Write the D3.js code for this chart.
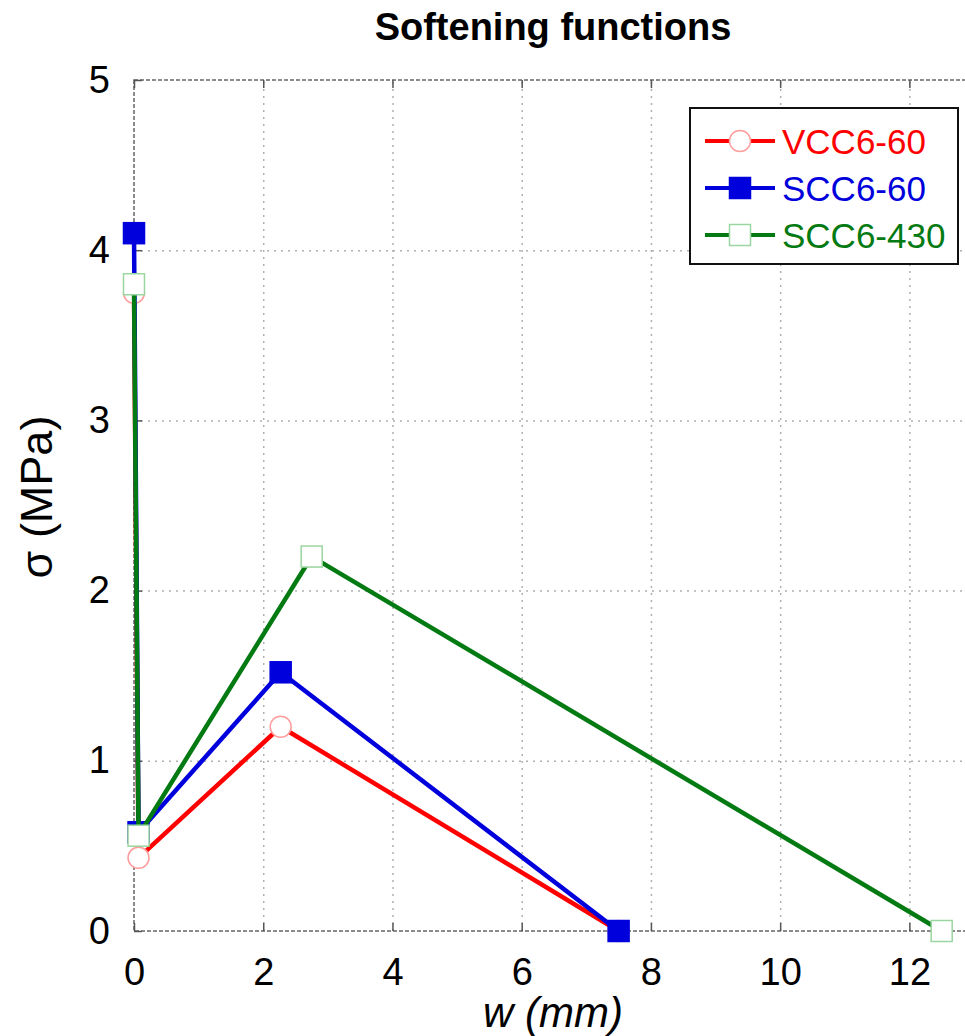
<!DOCTYPE html>
<html>
<head>
<meta charset="utf-8">
<script src="https://cdn.jsdelivr.net/npm/d3@7"></script>
<style>
  body { margin: 0; background: #fff; }
  svg { display: block; font-family: "Liberation Sans", Arial, sans-serif; }
</style>
</head>
<body>
<svg width="965" height="1036"></svg>
<script>
// data
var seriesNames = ["VCC6-60", "SCC6-60", "SCC6-430"];
var vccW = [0, 0.07, 2.27, 7.5];
var vccS = [3.75, 0.43, 1.2, 0];
var scc60W = [0, 0.07, 2.27, 7.5];
var scc60S = [4.1, 0.58, 1.52, 0];
var scc430W = [0, 0.07, 2.75, 12.5];
var scc430S = [3.8, 0.56, 2.2, 0];
var xTicks = [0, 2, 4, 6, 8, 10, 12];
var yTicks = [0, 1, 2, 3, 4, 5];

var svg = d3.select("svg"),
    margin = {left: 134, top: 80},
    width = 840,
    height = 851;

var x = d3.scaleLinear().domain([0, 13]).range([0, width]);
var y = d3.scaleLinear().domain([0, 5]).range([height, 0]);

var series = [
  {name: seriesNames[0], w: vccW, s: vccS, color: "#ff0000", marker: "circle", fill: "#fff", mstroke: "#ff9c9c"},
  {name: seriesNames[1], w: scc60W, s: scc60S, color: "#0000dd", marker: "square", fill: "#0000dd", mstroke: "#0000dd"},
  {name: seriesNames[2], w: scc430W, s: scc430S, color: "#047a12", marker: "square", fill: "#fff", mstroke: "#9ad69f"}
];

svg.append("text")
    .attr("x", 553).attr("y", 40)
    .attr("text-anchor", "middle")
    .attr("font-size", "38px").attr("font-weight", "bold")
    .text("Softening functions");

var g = svg.append("g").attr("transform", "translate(" + margin.left + "," + margin.top + ")");

// grid
g.append("g")
    .attr("class", "grid")
    .attr("transform", "translate(0," + height + ")")
    .call(d3.axisBottom(x).tickValues(xTicks.slice(1)).tickSize(-height).tickFormat(""))
    .call(function(s) { s.select(".domain").remove(); });
g.append("g")
    .attr("class", "grid")
    .call(d3.axisLeft(y).tickValues(yTicks.slice(1, -1)).tickSize(-width).tickFormat(""))
    .call(function(s) { s.select(".domain").remove(); });
g.selectAll(".grid line")
    .attr("stroke", "#b0b0b0")
    .attr("stroke-width", 1.5)
    .attr("stroke-dasharray", "2,5");

// frame
g.append("rect")
    .attr("width", width).attr("height", height)
    .attr("fill", "none")
    .attr("stroke", "#666")
    .attr("stroke-width", 1.5)
    .attr("stroke-dasharray", "4,2");

// axes with inward ticks
var xAxis = g.append("g")
    .attr("transform", "translate(0," + height + ")")
    .call(d3.axisBottom(x).tickValues(xTicks).tickSize(-8).tickPadding(27).tickFormat(d3.format("d")));
var xTop = g.append("g")
    .call(d3.axisTop(x).tickValues(xTicks).tickSize(-8).tickFormat(""));
var yAxis = g.append("g")
    .call(d3.axisLeft(y).tickValues(yTicks).tickSize(-8).tickPadding(24).tickFormat(d3.format("d")));
[xAxis, xTop, yAxis].forEach(function(a) {
  a.select(".domain").remove();
  a.selectAll("line").attr("stroke", "#555").attr("stroke-width", 1.5);
  a.selectAll("text").attr("font-size", "38px").attr("fill", "#000").style("font-family", "Liberation Sans, Arial, sans-serif");
});

// axis titles
svg.append("text")
    .attr("x", 553).attr("y", 1027)
    .attr("text-anchor", "middle")
    .attr("font-size", "42px").attr("font-style", "italic")
    .text("w (mm)");
svg.append("text")
    .attr("transform", "translate(52,497) rotate(-90)")
    .attr("text-anchor", "middle")
    .attr("font-size", "45px")
    .text("σ (MPa)");

// series
var line = d3.line().x(function(d) { return x(d[0]); }).y(function(d) { return y(d[1]); });

function drawMarker(sel, d, cx, cy) {
  if (d.marker === "circle") {
    sel.append("circle")
        .attr("cx", cx).attr("cy", cy).attr("r", 10.5)
        .attr("fill", d.fill).attr("stroke", d.mstroke).attr("stroke-width", 1.5);
  } else {
    sel.append("rect")
        .attr("x", cx - 10.5).attr("y", cy - 10.5)
        .attr("width", 21).attr("height", 21)
        .attr("fill", d.fill).attr("stroke", d.mstroke).attr("stroke-width", 1.5);
  }
}

series.forEach(function(d) {
  var pts = d.w.map(function(w, i) { return [w, d.s[i]]; });
  g.append("path")
      .attr("d", line(pts))
      .attr("fill", "none")
      .attr("stroke", d.color)
      .attr("stroke-width", 4.5)
      .attr("stroke-linejoin", "round");
  var mg = g.append("g");
  pts.forEach(function(p) { drawMarker(mg, d, x(p[0]), y(p[1])); });
});

// legend
var lg = svg.append("g").attr("transform", "translate(690,108)");
lg.append("rect")
    .attr("width", 268).attr("height", 156)
    .attr("fill", "#fff")
    .attr("stroke", "#111")
    .attr("stroke-width", 2);
series.forEach(function(d, i) {
  var yy = 33 + i * 47;
  lg.append("line")
      .attr("x1", 15).attr("x2", 85)
      .attr("y1", yy).attr("y2", yy)
      .attr("stroke", d.color).attr("stroke-width", 4);
  drawMarker(lg, d, 50, yy);
  lg.append("text")
      .attr("x", 92).attr("y", yy)
      .attr("dy", "0.36em")
      .attr("font-size", "35px")
      .attr("fill", d.color)
      .text(d.name);
});
</script>
</body>
</html>
